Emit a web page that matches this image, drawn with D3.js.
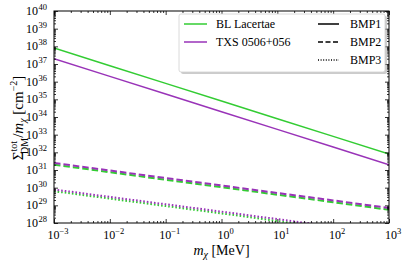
<!DOCTYPE html>
<html>
<head>
<meta charset="utf-8">
<script src="https://cdn.jsdelivr.net/npm/d3@7"></script>
<style>
  body { margin: 0; background: #fff; }
  svg text { font-family: 'Liberation Serif', 'DejaVu Serif', serif; }
</style>
</head>
<body>
<div id="viz"></div>
<script>
// datos
var masas = [1e-3, 1e-2, 1e-1, 1, 10, 100, 1000]; // MeV
var blBMP1  = [8.0e37, 8.0e36, 8.0e35, 8.0e34, 8.0e33, 8.0e32, 8.0e31];
var txsBMP1 = [2.0e37, 2.0e36, 2.0e35, 2.0e34, 2.0e33, 2.0e32, 2.0e31];
var blBMP2  = [2.0e31, 7.5e30, 2.8e30, 1.06e30, 4.0e29, 1.5e29, 5.6e28];
var txsBMP2 = [2.5e31, 9.4e30, 3.5e30, 1.33e30, 5.0e29, 1.9e29, 7.1e28];
var blBMP3  = [6.3e29, 2.4e29, 9.1e28, 3.5e28, 1.3e28, 5.0e27, 1.9e27];
var txsBMP3 = [7.9e29, 3.0e29, 1.15e29, 4.4e28, 1.66e28, 6.3e27, 2.4e27];

var fuentes = ['BL Lacertae', 'TXS 0506+056'];
var benchmarks = ['BMP1', 'BMP2', 'BMP3'];
var xTicks = [-3, -2, -1, 0, 1, 2, 3];
var yTicks = [28, 29, 30, 31, 32, 33, 34, 35, 36, 37, 38, 39, 40];

var width = 405, height = 265;
var m = {left: 54, right: 16, top: 11, bottom: 42};
var verde = '#33cc33', violeta = '#9933b8';
var estilos = {BMP1: null, BMP2: '6.5,3', BMP3: '1.6,2'};
var grosor = {BMP1: 1.5, BMP2: 2, BMP3: 2};

var svg = d3.select('#viz').append('svg')
  .attr('width', width)
  .attr('height', height)
  .attr('font-family', "'Liberation Serif', serif");

var x = d3.scaleLog().domain([1e-3, 1e3]).range([m.left, width - m.right]);
var y = d3.scaleLog().domain([1e28, 1e40]).range([height - m.bottom, m.top]);

// ticks menores de cada decada
function menores(dom) {
  var lo = Math.round(Math.log10(dom[0])), hi = Math.round(Math.log10(dom[1]));
  var v = [];
  for (var d = lo; d < hi; d++) for (var k = 2; k <= 9; k++) v.push(k * Math.pow(10, d));
  return v;
}
var xMayor = xTicks.map(function(e){ return Math.pow(10, e); });
var yMayor = yTicks.map(function(e){ return Math.pow(10, e); });

//Clip para las curvas
svg.append('defs').append('clipPath').attr('id', 'area')
  .append('rect')
  .attr('x', m.left).attr('y', m.top)
  .attr('width', width - m.left - m.right)
  .attr('height', height - m.top - m.bottom);

var gCurvas = svg.append('g').attr('clip-path', 'url(#area)');
var linea = d3.line()
  .x(function(d){ return x(d[0]); })
  .y(function(d){ return y(d[1]); });

var series = [
  {v: blBMP1, c: verde, b: 'BMP1'}, {v: txsBMP1, c: violeta, b: 'BMP1'},
  {v: blBMP2, c: verde, b: 'BMP2'}, {v: txsBMP2, c: violeta, b: 'BMP2'},
  {v: blBMP3, c: verde, b: 'BMP3'}, {v: txsBMP3, c: violeta, b: 'BMP3'}
];
series.forEach(function(s){
  gCurvas.append('path')
    .datum(masas.map(function(mm, i){ return [mm, s.v[i]]; }))
    .attr('d', linea)
    .attr('fill', 'none')
    .attr('stroke', s.c)
    .attr('stroke-width', grosor[s.b])
    .attr('stroke-dasharray', estilos[s.b]);
});

//Ejes con ticks hacia adentro
function eje(gen, esc, vals, tam, tr) {
  var g = svg.append('g').attr('transform', tr)
    .call(gen(esc).tickValues(vals).tickSizeInner(-tam).tickSizeOuter(0).tickFormat(''));
  g.select('.domain').remove();
  g.selectAll('line').attr('stroke', '#000').attr('stroke-width', 0.8);
}
var yb = height - m.bottom, xr = width - m.right;
eje(d3.axisBottom, x, xMayor, 4, 'translate(0,' + yb + ')');
eje(d3.axisBottom, x, menores(x.domain()), 2, 'translate(0,' + yb + ')');
eje(d3.axisTop, x, xMayor, 4, 'translate(0,' + m.top + ')');
eje(d3.axisTop, x, menores(x.domain()), 2, 'translate(0,' + m.top + ')');
eje(d3.axisLeft, y, yMayor, 4, 'translate(' + m.left + ',0)');
eje(d3.axisLeft, y, menores(y.domain()), 2, 'translate(' + m.left + ',0)');
eje(d3.axisRight, y, yMayor, 4, 'translate(' + xr + ',0)');
eje(d3.axisRight, y, menores(y.domain()), 2, 'translate(' + xr + ',0)');

svg.append('rect')
  .attr('x', m.left).attr('y', m.top)
  .attr('width', xr - m.left).attr('height', yb - m.top)
  .attr('fill', 'none').attr('stroke', '#000').attr('stroke-width', 1);

//Etiquetas 10^n
xTicks.forEach(function(e){
  var t = svg.append('text')
    .attr('x', x(Math.pow(10, e)) + 4).attr('y', yb + 16)
    .attr('text-anchor', 'middle').attr('font-size', 12);
  t.append('tspan').text('10');
  t.append('tspan').attr('dy', -5).attr('font-size', 8.5).text(e < 0 ? '\u2212' + (-e) : e);
});
yTicks.forEach(function(e){
  svg.append('text')
    .attr('x', m.left - 16).attr('y', y(Math.pow(10, e)) + 4)
    .attr('text-anchor', 'end').attr('font-size', 12).text('10');
  svg.append('text')
    .attr('x', m.left - 15.5).attr('y', y(Math.pow(10, e)) - 1)
    .attr('font-size', 8.5).text(e);
});

//Titulos de ejes
var tx = svg.append('text')
  .attr('x', (m.left + xr) / 2).attr('y', height - 10)
  .attr('text-anchor', 'middle').attr('font-size', 14);
tx.append('tspan').attr('font-style', 'italic').text('m');
tx.append('tspan').attr('font-style', 'italic').attr('font-size', 10).attr('dy', 3).text('\u03c7');
tx.append('tspan').attr('dy', -3).text(' [MeV]');

var ty = svg.append('text')
  .attr('transform', 'translate(23,' + ((m.top + yb) / 2 + 1) + ') rotate(-90)')
  .attr('text-anchor', 'middle').attr('font-size', 15);
ty.append('tspan').text('\u03a3');
ty.append('tspan').attr('font-size', 10).attr('dy', -6).text('tot');
ty.append('tspan').attr('font-size', 10).attr('dx', -13).attr('dy', 11).text('DM');
ty.append('tspan').attr('dy', -5).text('/');
ty.append('tspan').attr('font-style', 'italic').text('m');
ty.append('tspan').attr('font-style', 'italic').attr('font-size', 10).attr('dy', 3).text('\u03c7');
ty.append('tspan').attr('dy', -3).text(' [cm');
ty.append('tspan').attr('font-size', 10).attr('dy', -6).text('\u22122');
ty.append('tspan').attr('dy', 6).text(']');

//Leyenda
var gL = svg.append('g');
var lx = 179, ly = 14, lw = 206, lh = 58;
gL.append('rect').attr('x', lx + 2).attr('y', ly + 2).attr('width', lw).attr('height', lh)
  .attr('rx', 2).attr('fill', '#999').attr('opacity', 0.5);
gL.append('rect').attr('x', lx).attr('y', ly).attr('width', lw).attr('height', lh)
  .attr('rx', 2).attr('fill', '#fff').attr('stroke', '#d0d0d0').attr('stroke-width', 0.8);
[verde, violeta].forEach(function(c, i){
  var yy = ly + 10 + i * 18;
  gL.append('line').attr('x1', lx + 5).attr('x2', lx + 28).attr('y1', yy).attr('y2', yy)
    .attr('stroke', c).attr('stroke-width', 1.5);
  gL.append('text').attr('x', lx + 37).attr('y', yy + 4).attr('font-size', 12).text(fuentes[i]);
});
benchmarks.forEach(function(b, i){
  var yy = ly + 10 + i * 18;
  gL.append('line').attr('x1', lx + 139).attr('x2', lx + 160).attr('y1', yy).attr('y2', yy)
    .attr('stroke', '#000').attr('stroke-width', 1.5).attr('stroke-dasharray', estilos[b] ? (b === 'BMP2' ? '5,2.5' : '1,1.6') : null);
  gL.append('text').attr('x', lx + 171).attr('y', yy + 4).attr('font-size', 12).text(b);
});
</script>
</body>
</html>
